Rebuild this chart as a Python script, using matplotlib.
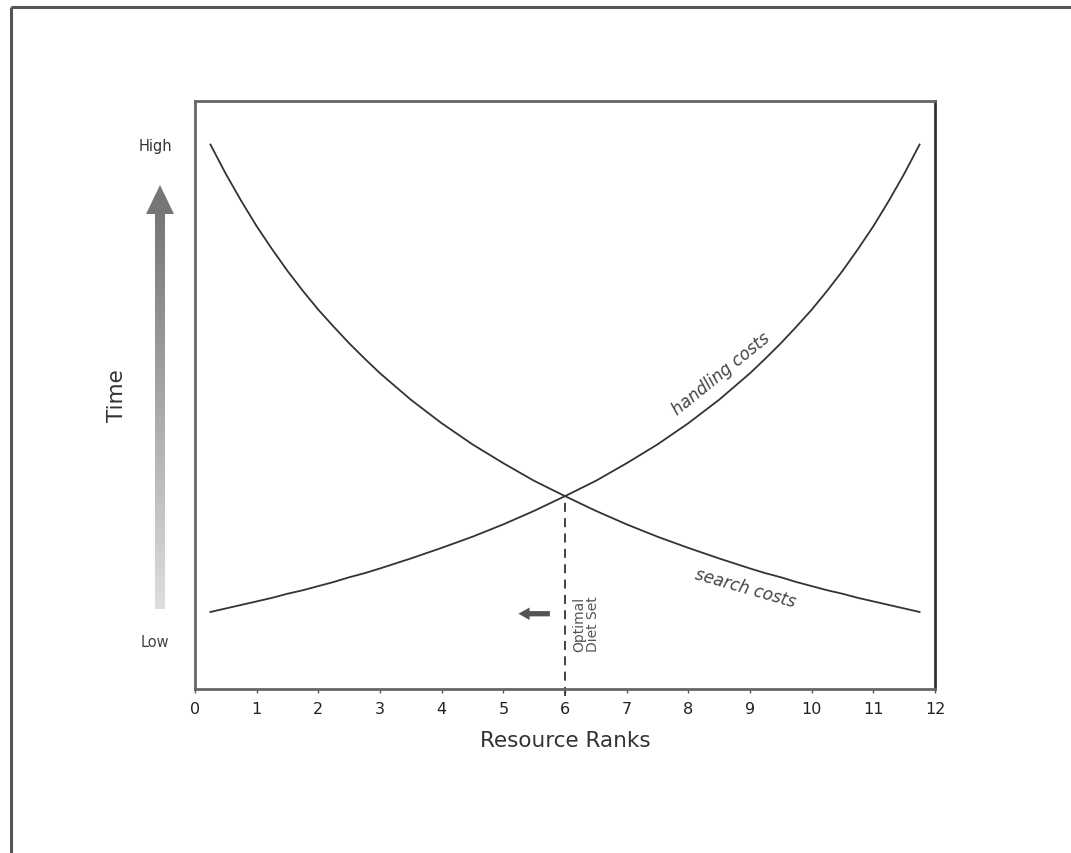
import numpy as np
import matplotlib
matplotlib.use('Agg')
import matplotlib.pyplot as plt
from matplotlib.colors import LinearSegmentedColormap
from matplotlib.patches import Polygon

plt.rcParams['font.family'] = ['DejaVu Sans']

ranks = [0.25, 0.5, 0.75, 1.0, 1.25, 1.5, 1.75, 2.0, 2.25, 2.5, 2.75, 3.0,
         3.5, 4.0, 4.5, 5.0, 5.5, 6.0, 6.5, 7.0, 7.5, 8.0, 8.5, 9.0,
         9.25, 9.5, 9.75, 10.0, 10.25, 10.5, 10.75, 11.0, 11.25, 11.5, 11.75]

# Time (0 = low, 1 = high)
search_costs = [0.926, 0.876, 0.830, 0.787, 0.748, 0.711, 0.677, 0.645, 0.616,
                0.588, 0.562, 0.537, 0.492, 0.452, 0.416, 0.384, 0.354, 0.328,
                0.303, 0.280, 0.259, 0.240, 0.222, 0.205, 0.197, 0.190, 0.182,
                0.175, 0.168, 0.162, 0.155, 0.149, 0.143, 0.137, 0.131]
handling_costs = [0.131, 0.137, 0.143, 0.149, 0.155, 0.162, 0.168, 0.175, 0.182,
                  0.190, 0.197, 0.205, 0.222, 0.240, 0.259, 0.280, 0.303, 0.328,
                  0.354, 0.384, 0.416, 0.452, 0.492, 0.537, 0.562, 0.588, 0.616,
                  0.645, 0.677, 0.711, 0.748, 0.787, 0.830, 0.876, 0.926]

x_ticks = list(range(0, 13))
optimum_rank = 6
optimum_time = 0.328

W, H = 1071, 854
fig = plt.figure(figsize=(W / 100, H / 100), dpi=100)

# overlay in pixel coords for the frame and the gradient arrow
ov = fig.add_axes([0, 0, 1, 1])
ov.set_axis_off()
ov.plot([11, 11], [8, H], color='#555555', lw=2.2, solid_capstyle='butt')
ov.plot([11, W], [8, 8], color='#555555', lw=2.2, solid_capstyle='butt')
cmap = LinearSegmentedColormap.from_list('tg', ['#767676', '#dedede'])
grad = np.linspace(0, 1, 256).reshape(-1, 1)
ov.imshow(grad, cmap=cmap, extent=(155, 165, 610, 214), aspect='auto')
ov.add_patch(Polygon([(146, 215), (174, 215), (160, 186)], closed=True,
                     color='#767676', lw=0))
ov.set_xlim(0, W)
ov.set_ylim(H, 0)

ax = fig.add_axes([195 / W, 164 / H, 740 / W, 588 / H])
ax.plot(ranks, search_costs, color='#333333', lw=1.3)
ax.plot(ranks, handling_costs, color='#333333', lw=1.3)
ax.plot([optimum_rank, optimum_rank], [-0.012, optimum_time], color='#333333',
        lw=1.3, linestyle=(0, (5, 3.5)), clip_on=False)

ax.set_xlim(0, 12)
ax.set_ylim(0, 1)
ax.set_xticks(x_ticks)
ax.tick_params(axis='x', direction='out', length=3, width=1, color='#555555',
               labelsize=11.5, labelcolor='#222222', pad=6)
ax.set_yticks([])
for side in ['left', 'top', 'bottom']:
    ax.spines[side].set_color('#666666')
    ax.spines[side].set_linewidth(2)
ax.spines['right'].set_color('#333333')
ax.spines['right'].set_linewidth(2)

ax.set_xlabel('Resource Ranks', fontsize=15.5, color='#333333', labelpad=10)
ax.text(-0.105, 0.5, 'Time', transform=ax.transAxes, rotation=90, fontsize=15.5,
        color='#333333', ha='center', va='center')
ax.text(-0.054, 0.925, 'High', transform=ax.transAxes, fontsize=10.5,
        color='#333333', ha='center', va='center')
ax.text(-0.054, 0.08, 'Low', transform=ax.transAxes, fontsize=10.5,
        color='#444444', ha='center', va='center')

ax.text(8.53, 0.537, 'handling costs', rotation=39, fontsize=12, style='italic',
        color='#444444', ha='center', va='center')
ax.text(8.92, 0.173, 'search costs', rotation=-16, fontsize=12, style='italic',
        color='#444444', ha='center', va='center')
ax.text(6.11, 0.065, 'Optimal\nDiet Set', rotation=90, rotation_mode='anchor',
        fontsize=10, color='#555555', ha='left', va='top', linespacing=1.05)

ax.annotate('', xy=(5.2, 0.128), xytext=(5.8, 0.128),
            arrowprops=dict(arrowstyle='simple,head_length=0.8,head_width=0.9,tail_width=0.38',
                            color='#555555', lw=0))

fig.savefig('out.png', dpi=100)
